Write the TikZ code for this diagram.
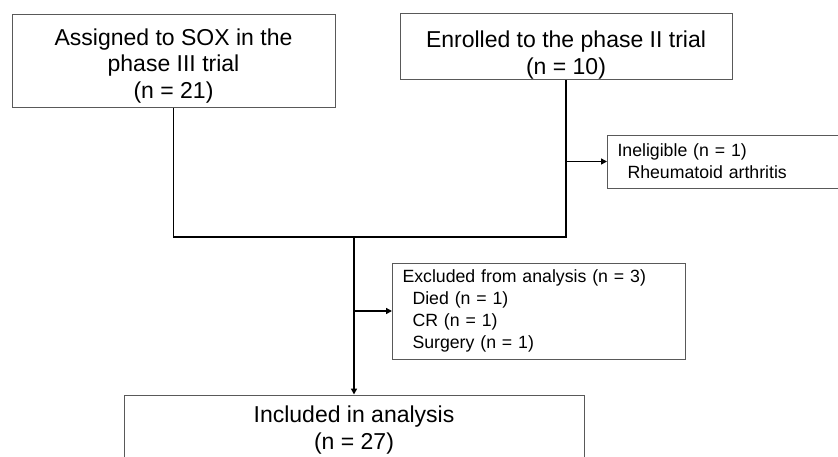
\documentclass[tikz,border=0pt]{standalone}
\usepackage{fontspec}
\setmainfont{Liberation Sans}
\usepackage{tikz}
\usetikzlibrary{arrows.meta}
\usetikzlibrary{positioning}

\tikzset{
  box/.style={draw=black!65, line width=1pt, inner sep=0pt},
  bigtext/.style={font=\fontsize{23}{26.5}\selectfont, align=center},
  smalltext/.style={font=\fontsize{17.7}{22}\selectfont, align=left},
  link/.style={line width=1.6pt},
  arrowlink/.style={link, -{Triangle[length=6pt,width=6pt]}}
}

\begin{document}
\begin{tikzpicture}[x=1pt, y=-1pt]
          \useasboundingbox (0,0) rectangle (838,456);
          \node [box, bigtext, minimum width=323, minimum height=93] (sox) at (173.5,60.5) {\rule{0pt}{27pt}Assigned to SOX in the\\phase III trial\\(n = 21)};
          \node [box, bigtext, minimum width=332, minimum height=65] (phaseII) at (566,46.5) {\rule{0pt}{34pt}Enrolled to the phase II trial\\(n = 10)};
          \node [box, smalltext, anchor=west, text width=233, inner xsep=10, minimum height=53] (inelig) at (607,161.5) {Ineligible (n = 1)\\\hspace{10pt}Rheumatoid arthritis};
          \node [box, smalltext, anchor=west, text width=273, inner xsep=10, minimum height=96] (excl) at (392,311) {Excluded from analysis (n = 3)\\\hspace{10pt}Died (n = 1)\\\hspace{10pt}CR (n = 1)\\\hspace{10pt}Surgery (n = 1)};
          \node [box, bigtext, minimum width=460, minimum height=67] (incl) at (354,428.5) {\rule{0pt}{20pt}Included in analysis\\(n = 27)};

          \coordinate (merge) at (354,237);
          \draw [link] (sox.south) |- (merge) -| (phaseII.south);
          \draw [arrowlink] (merge) -- (incl.north);
          \draw [arrowlink] (phaseII.south |- inelig.west) -- (inelig.west);
          \draw [arrowlink] (merge |- excl.west) -- (excl.west);
        \end{tikzpicture}
\end{document}
